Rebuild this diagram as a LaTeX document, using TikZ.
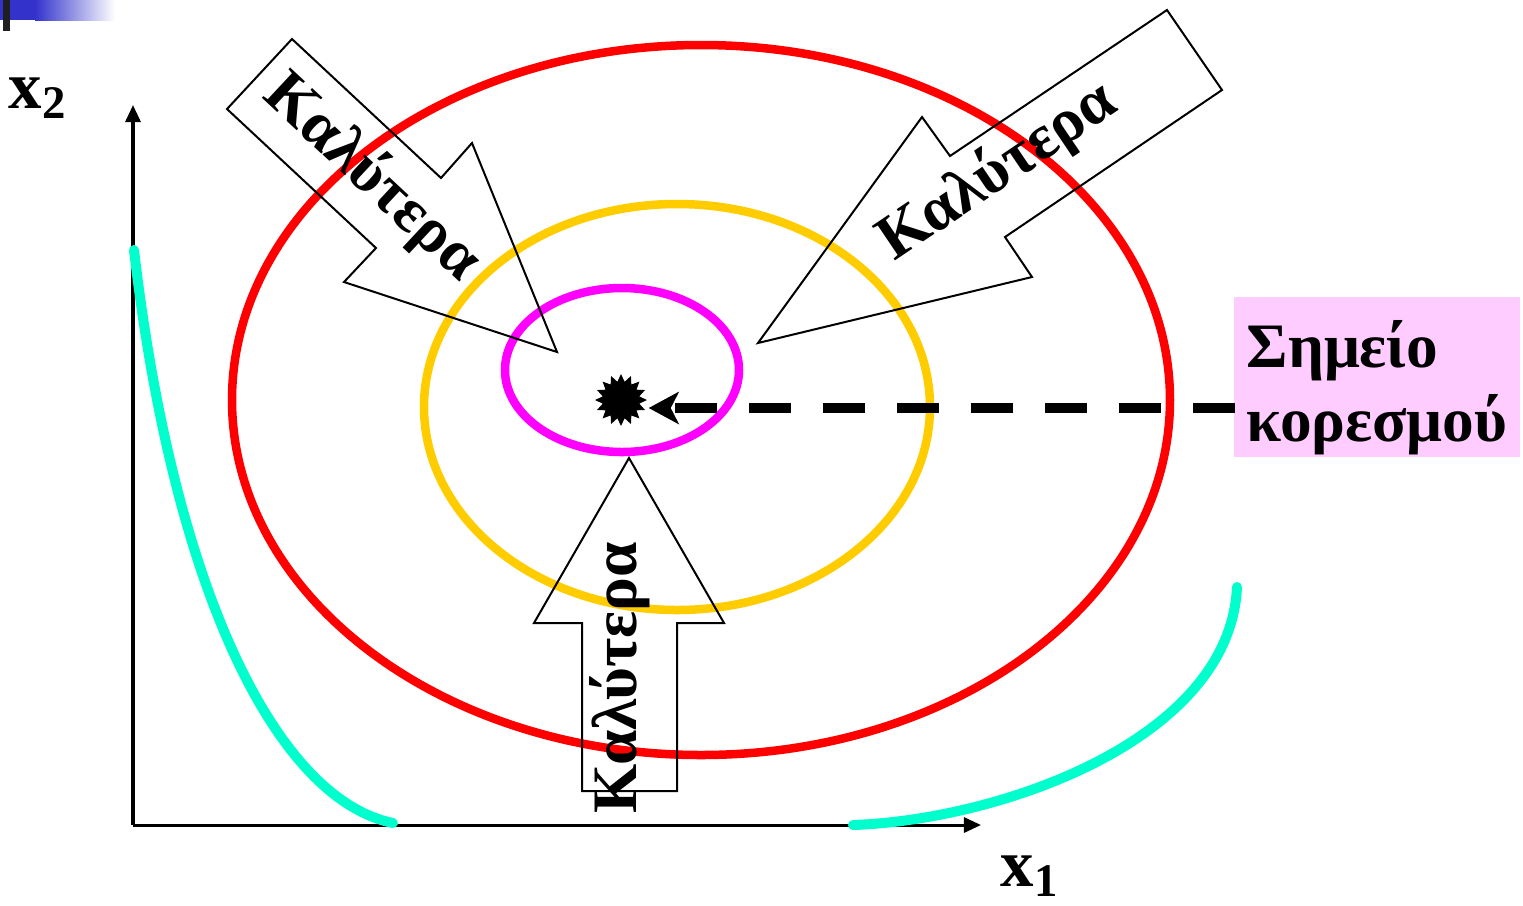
\documentclass[tikz,border=0pt]{standalone}
\usepackage{fontspec}
\setmainfont{Liberation Serif}
\usetikzlibrary{arrows.meta,shapes.geometric,positioning}
\definecolor{isored}{HTML}{FF0000}
\definecolor{isoyellow}{HTML}{FFCC00}
\definecolor{isopink}{HTML}{FF00FF}
\definecolor{budgetcyan}{HTML}{00FFCC}
\definecolor{satfill}{HTML}{FFCCFF}
\definecolor{barblue}{HTML}{3333CC}
\tikzset{
  axisline/.style={line width=0.03cm, -{Triangle[length=0.17cm,width=0.15cm]}},
  isoline/.style={line width=0.085cm},
  budget/.style={line width=0.1cm, draw=budgetcyan, line cap=round},
  blockarrow/.style={draw=black, line width=0.02cm, line join=miter},
  better/.style={font=\fontsize{18}{22}\selectfont\bfseries, inner sep=0pt},
  axislabel/.style={font=\fontsize{19}{22}\selectfont\bfseries, inner sep=0pt},
  satbox/.style={rectangle, fill=satfill, minimum width=2.85cm, minimum height=1.6cm,
    inner ysep=0pt, align=left, font=\fontsize{18}{21}\selectfont\bfseries},
  satline/.style={line width=0.1cm, dash pattern=on 0.42cm off 0.32cm,
    -{Stealth[length=0.3cm,width=0.32cm,inset=0.08cm]}},
  optimum/.style={star, star points=16, star point ratio=1.4, fill=black,
    minimum size=0.52cm, inner sep=0pt}
}

\begin{document}
\begin{tikzpicture}[x=0.01cm, y=-0.01cm]
\useasboundingbox (0,0) rectangle (1523,905);
% slide corner mark
\fill[barblue] (0,0) rectangle (36,20);
\shade[left color=barblue, right color=white] (35,0) rectangle (115,20);
\fill[black!88] (3,0) rectangle (10,31);
% axes
\coordinate (O) at (133,825);
\coordinate (ytop) at (133,105);
\coordinate (xend) at (981,825);
\draw[axisline] (O) -- (ytop);
\draw[axisline] (O) -- (xend);
\node[axislabel] (xtwo) at (38,98) {x\textsubscript{2}};
\node[axislabel] (xone) at (1030,876) {x\textsubscript{1}};
% indifference curves
\draw[isoline, draw=isored] (701,400) ellipse [x radius=469, y radius=355];
\draw[isoline, draw=isoyellow] (677,407) ellipse [x radius=253, y radius=203];
\draw[isoline, draw=isopink] (622,370) ellipse [x radius=117, y radius=82];
% constraint curves
\draw[budget] (134,250) .. controls (175,600) and (280,800) .. (393,823);
\draw[budget] (853,825) .. controls (1000,820) and (1230,740) .. (1237,587);
% block arrows
\draw[blockarrow] (292,39) -- (441,178) -- (472,143) -- (557,352) -- (344,282) -- (376,248) -- (227,109) -- cycle;
\draw[blockarrow] (1167,10) -- (950,156) -- (922,117) -- (758,343) -- (1032,277) -- (1005,237) -- (1222,90) -- cycle;
\draw[blockarrow] (629,458) -- (724,623) -- (677,623) -- (677,791) -- (582,791) -- (582,623) -- (534,623) -- cycle;
\node[better, rotate=-43] (bestA) at (372,178) {Καλύτερα};
\node[better, rotate=34] (bestB) at (998,172) {Καλύτερα};
\node[better, rotate=90] (bestC) at (620,678) {Καλύτερα};
% saturation point
\node[optimum] (opt) at (621,400) {};
\node[satbox] (sat) at (1377,377) {\rule{0pt}{0.69cm}Σημείο\\κορεσμού};
\coordinate (satin) at (1235,408);
\draw[satline] (satin) -- (satin -| opt.east);
\end{tikzpicture}
\end{document}
